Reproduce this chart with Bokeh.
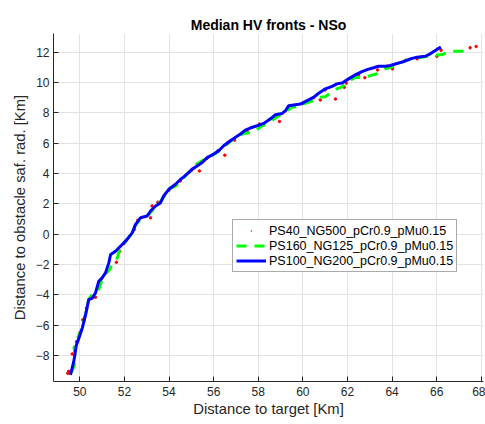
from bokeh.plotting import figure
from bokeh.models import FixedTicker, Range1d, Legend, LegendItem
from bokeh.embed import file_html
from bokeh.resources import INLINE

# ---- data ----
title_text = "Median HV fronts - NSo"
x_label = "Distance to target [Km]"
y_label = "Distance to obstacle saf. rad. [Km]"
x_ticks = [50, 52, 54, 56, 58, 60, 62, 64, 66, 68]
y_ticks = [-8, -6, -4, -2, 0, 2, 4, 6, 8, 10, 12]

names = ["PS40_NG500_pCr0.9_pMu0.15",
         "PS160_NG125_pCr0.9_pMu0.15",
         "PS100_NG200_pCr0.9_pMu0.15"]

red_x = [49.46, 49.50, 49.66, 49.85, 50.00, 50.13, 50.30, 50.55, 50.70, 50.95,
         51.20, 51.64, 51.79, 52.00, 52.45, 52.60, 53.17, 53.24, 53.50, 54.00,
         54.50, 55.00, 55.36, 55.70, 56.20, 56.50, 56.65, 56.94, 57.50, 58.05,
         58.50, 58.95, 59.50, 60.00, 60.50, 60.78, 61.00, 61.46, 61.86, 61.95,
         62.50, 62.78, 63.35, 64.02, 64.60, 65.12, 66.01, 66.20, 67.50, 67.77]
red_y = [-9.18, -9.05, -7.90, -7.10, -6.50, -5.65, -4.88, -4.20, -4.17, -3.00,
         -2.50, -1.86, -1.13, -0.60, 0.31, 0.90, 1.07, 1.85, 2.10, 2.90,
         3.50, 4.20, 4.16, 5.00, 5.50, 5.20, 6.04, 6.19, 6.80, 7.25,
         7.55, 7.42, 8.45, 8.60, 9.00, 8.84, 9.50, 8.90, 9.67, 9.95,
         10.50, 10.31, 10.82, 10.89, 11.45, 11.55, 11.72, 12.12, 12.28, 12.36]

green_x = [49.62, 49.70, 49.76, 49.78, 49.74, 49.80, 49.95, 50.10, 50.25, 50.40,
           50.55, 50.85, 51.00, 51.15, 51.35, 51.45, 51.68, 51.75, 51.97, 52.12,
           52.35, 52.50, 52.72, 52.85, 53.10, 53.40, 53.70, 54.00, 54.30, 54.60,
           54.80, 54.96, 55.26, 55.48, 55.80, 56.15, 56.30, 56.70, 57.00, 57.33,
           57.78, 58.17, 58.40, 58.90, 59.10, 59.50, 59.90, 60.00, 60.47, 60.70,
           61.00, 61.50, 61.75, 62.10, 62.35, 62.70, 63.30, 63.70, 64.05, 64.60,
           65.30, 65.80, 66.25, 66.60, 67.20, 67.40]
green_y = [-9.15, -8.85, -8.60, -7.90, -7.50, -7.19, -6.70, -6.20, -5.30, -4.30,
           -3.97, -3.64, -2.98, -2.65, -2.30, -2.00, -1.57, -1.20, -0.69, -0.35,
           0.10, 0.60, 0.99, 1.07, 1.30, 1.80, 2.30, 2.97, 3.17, 3.60,
           3.96, 4.16, 4.63, 4.83, 5.10, 5.37, 5.53, 6.05, 6.35, 6.63,
           6.70, 7.14, 7.25, 7.80, 7.93, 8.35, 8.46, 8.57, 8.79, 9.00,
           9.05, 9.55, 9.70, 10.10, 10.33, 10.30, 10.56, 10.90, 11.04, 11.44,
           11.66, 11.75, 11.83, 12.05, 12.05, 12.36]

blue_x = [49.58, 49.73, 49.85, 49.96, 50.11, 50.26, 50.40, 50.56, 50.70, 50.85,
          51.00, 51.15, 51.30, 51.38, 51.60, 51.90, 52.12, 52.35, 52.50, 52.72,
          53.02, 53.17, 53.40, 53.62, 53.76, 53.99, 54.29, 54.52, 54.66, 54.88,
          55.04, 55.26, 55.48, 55.71, 56.00, 56.23, 56.45, 56.75, 56.97, 57.20,
          57.42, 57.64, 57.95, 58.24, 58.54, 58.77, 59.07, 59.22, 59.36, 59.59,
          59.89, 60.19, 60.48, 60.71, 61.01, 61.31, 61.53, 61.76, 62.05, 62.35,
          62.65, 62.88, 63.17, 63.40, 63.70, 63.92, 64.22, 64.52, 64.82, 65.12,
          65.49, 65.71, 66.01, 66.19]
blue_y = [-9.28, -8.40, -7.30, -6.86, -6.20, -5.31, -4.32, -4.22, -3.89, -3.11,
          -2.89, -2.56, -1.90, -1.35, -1.13, -0.69, -0.35, 0.08, 0.64, 1.07,
          1.19, 1.52, 1.85, 2.07, 2.51, 2.95, 3.28, 3.61, 3.77, 4.05,
          4.28, 4.49, 4.71, 5.04, 5.27, 5.49, 5.82, 6.15, 6.37, 6.59,
          6.85, 6.99, 7.14, 7.29, 7.58, 7.87, 7.95, 8.13, 8.46, 8.51,
          8.57, 8.79, 9.01, 9.28, 9.57, 9.74, 9.90, 9.96, 10.23, 10.49,
          10.71, 10.84, 10.96, 11.06, 11.06, 11.11, 11.24, 11.37, 11.55, 11.66,
          11.72, 11.88, 12.17, 12.32]

# ---- figure ----
FONT = "Liberation Sans"
TXT = "#262626"

p = figure(width=485, height=424, output_backend="svg", toolbar_location=None,
           x_range=Range1d(48.82, 68.1), y_range=Range1d(-9.72, 13.22),
           min_border_left=53, min_border_right=2, min_border_top=33,
           min_border_bottom=43)
p.outline_line_color = None
p.background_fill_color = "white"
p.border_fill_color = "white"

p.title.text = title_text
p.title.align = "center"
p.title.text_font = FONT
p.title.text_font_size = "14px"
p.title.text_font_style = "bold"
p.title.text_color = "black"
p.title.standoff = 2

r_red = p.scatter(red_x, red_y, size=2.5, color="#ff0000")
r_green = p.line(green_x, green_y, line_color="#00ff00", line_width=3,
                 line_dash="10 8")
r_blue = p.line(blue_x, blue_y, line_color="#0000ff", line_width=3)
# legend-only proxy (no visible point) so the legend shows a tiny dot
nan = float("nan")
r_red_key = p.scatter(x=[nan], y=[nan], marker="dot", size=12,
                      line_color="#ff0000", fill_color="#ff0000", line_width=2)

for ax, ticks in ((p.xaxis[0], x_ticks), (p.yaxis[0], y_ticks)):
    ax.ticker = FixedTicker(ticks=ticks)
    ax.major_tick_in = 5
    ax.major_tick_out = 0
    ax.minor_tick_in = 0
    ax.minor_tick_out = 0
    ax.axis_line_color = TXT
    ax.major_tick_line_color = TXT
    ax.major_label_text_font = FONT
    ax.major_label_text_font_size = "12px"
    ax.major_label_text_color = TXT
    ax.axis_label_text_font = FONT
    ax.axis_label_text_font_size = "14.8px"
    ax.axis_label_text_font_style = "normal"
    ax.axis_label_text_color = TXT

p.xaxis.axis_label = x_label
p.yaxis.axis_label = y_label
p.xaxis.major_label_standoff = 5
p.xaxis.axis_label_standoff = 2
p.yaxis.major_label_standoff = 4
p.yaxis.axis_label_standoff = 5

p.xgrid.ticker = FixedTicker(ticks=x_ticks)
p.ygrid.ticker = FixedTicker(ticks=y_ticks)
p.grid.grid_line_color = "#e3e3e3"
p.grid.grid_line_width = 1

legend = Legend(items=[LegendItem(label=names[0], renderers=[r_red_key]),
                       LegendItem(label=names[1], renderers=[r_green]),
                       LegendItem(label=names[2], renderers=[r_blue])],
                location=(179, 109))
legend.label_text_font = FONT
legend.label_text_font_size = "12.5px"
legend.label_text_color = "black"
legend.border_line_color = "#555555"
legend.border_line_width = 1
legend.padding = 3
legend.spacing = 0
legend.margin = 0
legend.glyph_width = 30
legend.glyph_height = 15
legend.label_height = 15
legend.label_standoff = 3
legend.background_fill_alpha = 1
p.add_layout(legend, "center")

open("out.html", "w").write(file_html(p, INLINE))
